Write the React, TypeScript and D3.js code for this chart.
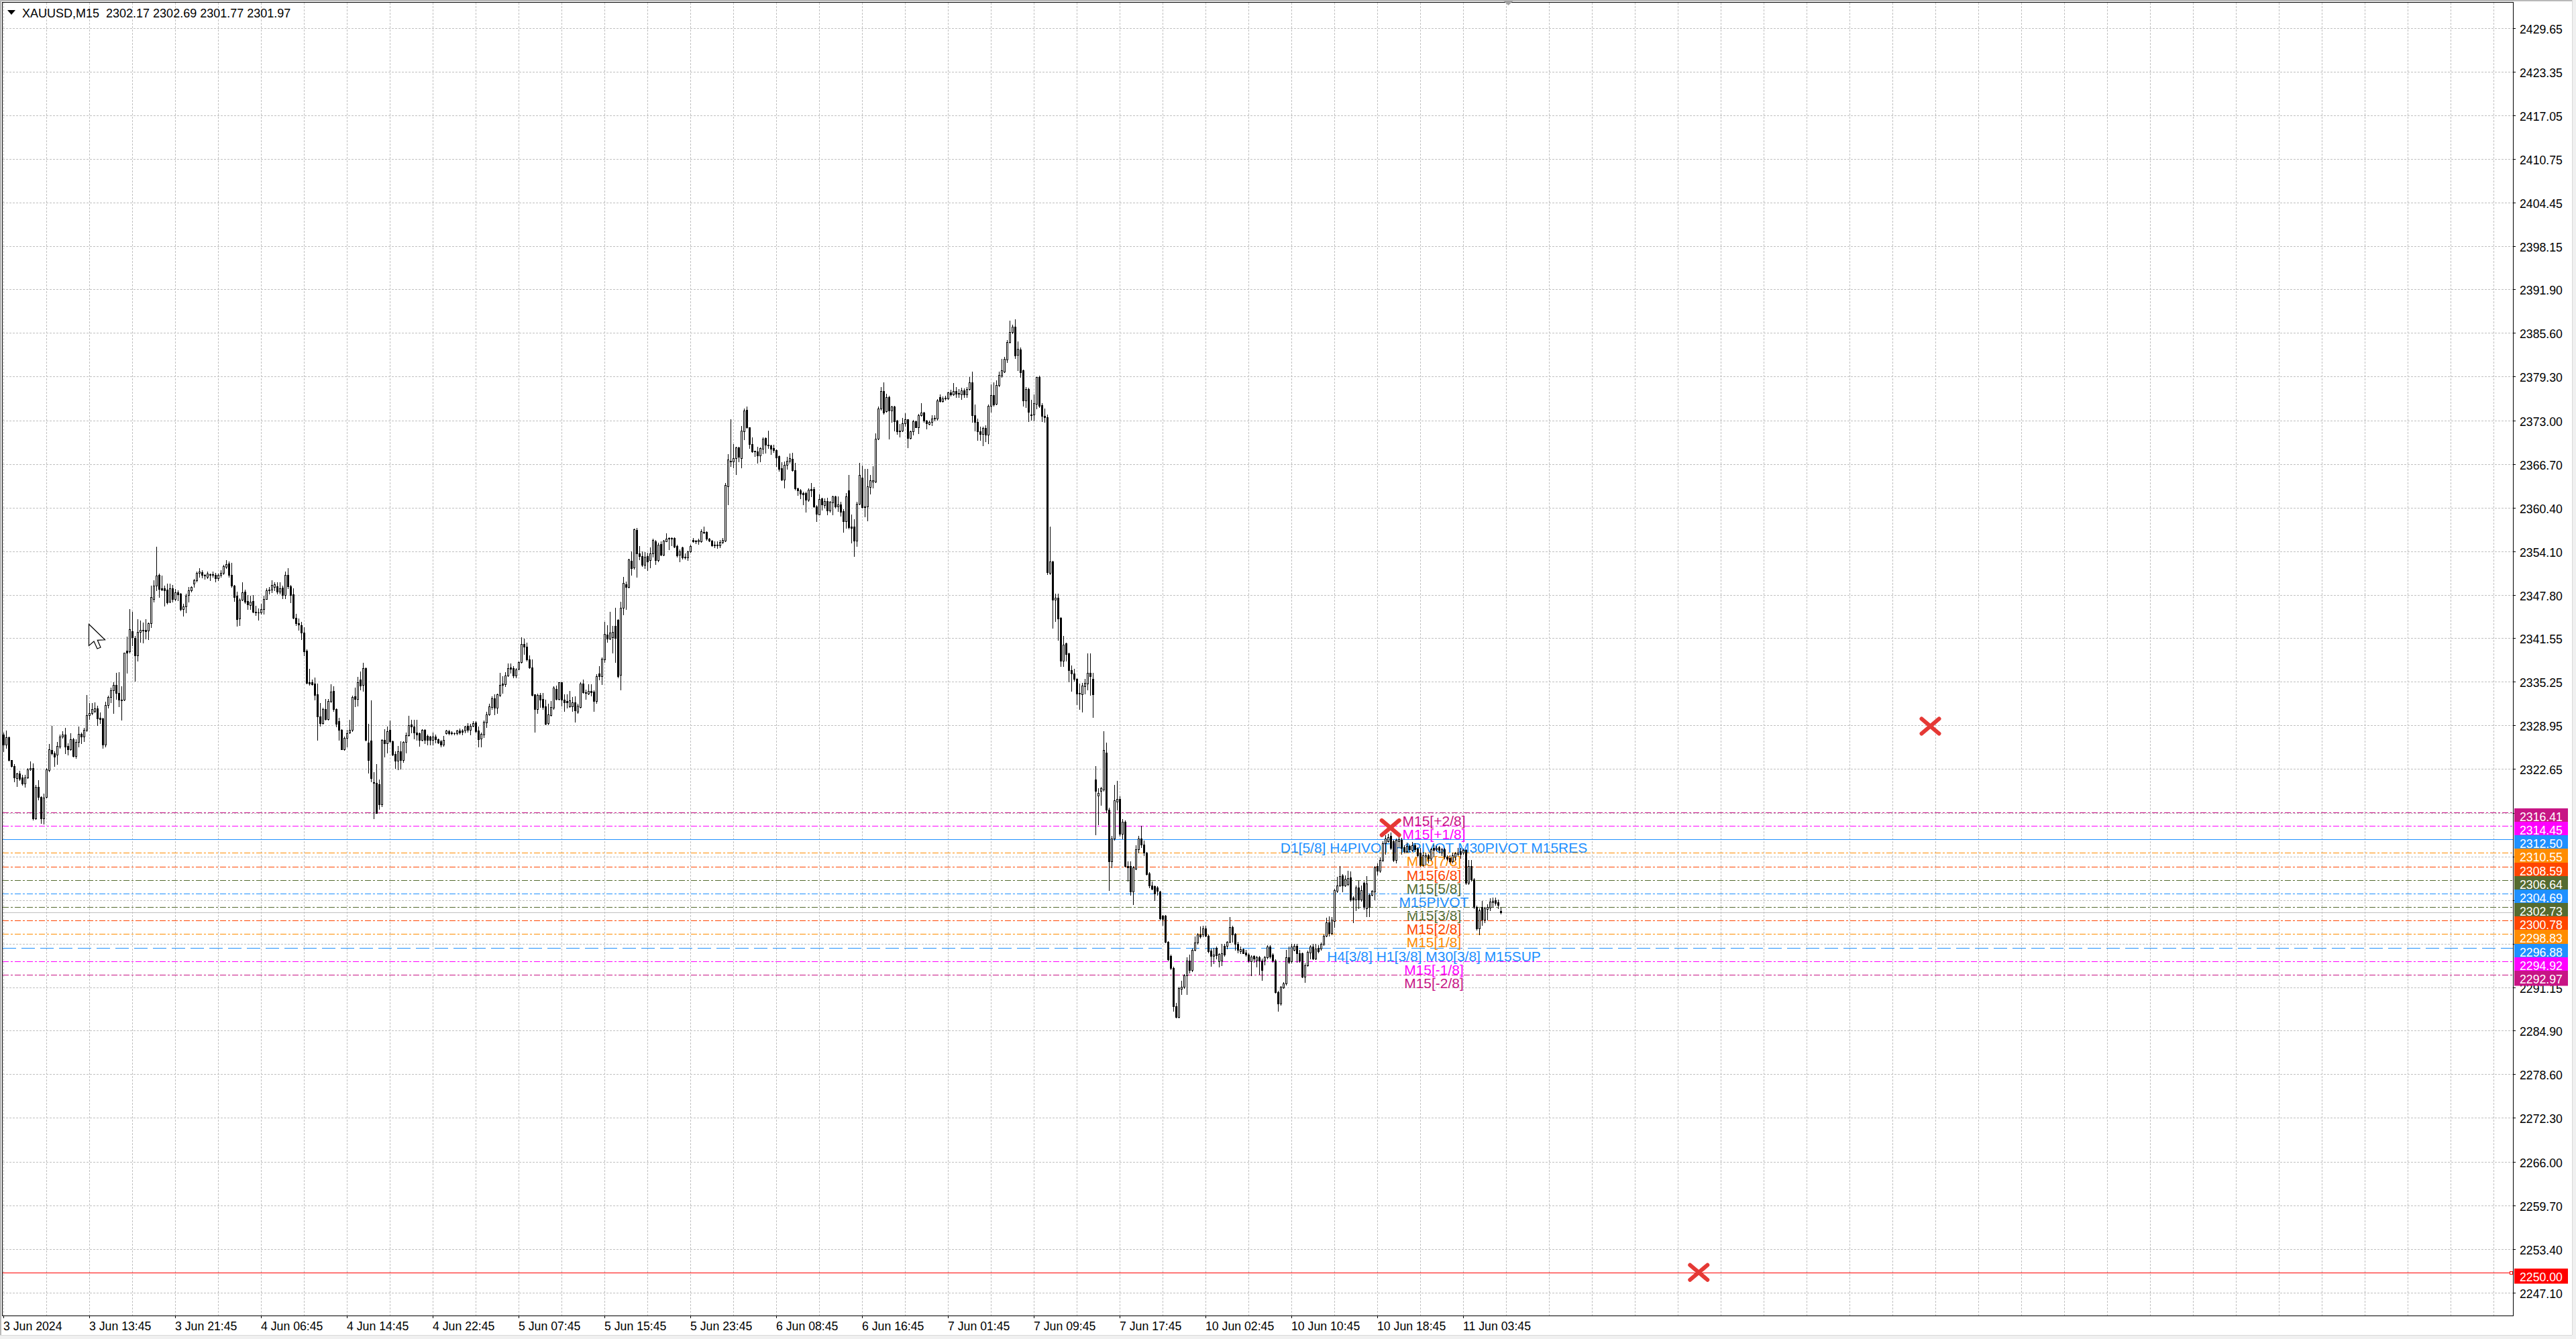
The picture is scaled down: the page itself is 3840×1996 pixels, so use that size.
import { useEffect, useRef } from "react";
import * as d3 from "d3";

// XAUUSD M15 bars, oldest first
const opens = [
  2327.64, 2326.18, 2327.22, 2323.92, 2323.12, 2321.34, 2322.05, 2321.41, 2320.53, 2321.41,
  2322.63, 2322.79, 2315.53, 2320.05, 2318.60, 2315.53, 2318.60, 2322.47, 2325.38, 2324.96,
  2324.73, 2325.86, 2327.31, 2327.64, 2326.02, 2325.47, 2326.99, 2324.50, 2326.57, 2327.73,
  2327.31, 2328.28, 2330.44, 2330.77, 2331.03, 2331.41, 2330.06, 2329.99, 2326.18, 2331.93,
  2333.03, 2334.06, 2334.83, 2333.67, 2332.64, 2332.64, 2339.74, 2339.68, 2342.55, 2341.61,
  2339.09, 2342.48, 2342.77, 2342.71, 2342.65, 2343.68, 2347.17, 2349.17, 2350.72, 2348.78,
  2348.78, 2348.52, 2346.78, 2348.78, 2347.17, 2348.20, 2347.97, 2345.71, 2346.13, 2347.75,
  2348.46, 2349.42, 2349.91, 2350.97, 2351.04, 2350.65, 2350.39, 2350.72, 2350.78, 2350.65,
  2350.23, 2350.65, 2350.97, 2351.85, 2352.33, 2350.65, 2349.10, 2347.65, 2344.42, 2347.10,
  2348.30, 2346.91, 2346.36, 2346.91, 2345.39, 2345.29, 2345.29, 2345.71, 2347.23, 2348.46,
  2348.52, 2348.94, 2349.04, 2348.30, 2348.84, 2347.75, 2350.65, 2349.04, 2347.87, 2344.52,
  2343.68, 2343.45, 2342.39, 2339.74, 2335.16, 2335.16, 2334.96, 2333.45, 2330.22, 2329.25,
  2331.35, 2329.90, 2332.48, 2333.93, 2331.35, 2329.57, 2328.28, 2325.47, 2327.15, 2327.96,
  2328.28, 2333.12, 2332.80, 2335.54, 2334.83, 2337.22, 2326.51, 2326.76, 2320.76, 2320.69,
  2320.44, 2317.53, 2326.89, 2326.34, 2328.28, 2326.67, 2324.83, 2323.86, 2325.21, 2323.92,
  2326.57, 2327.54, 2329.09, 2328.83, 2327.96, 2327.80, 2326.83, 2328.28, 2327.41, 2327.31,
  2326.83, 2327.31, 2326.99, 2326.67, 2326.18, 2327.86, 2328.12, 2327.96, 2327.86, 2327.80,
  2328.18, 2328.18, 2328.18, 2328.93, 2328.28, 2328.93, 2329.41, 2328.18, 2327.09, 2327.64,
  2329.41, 2330.54, 2331.61, 2332.90, 2331.51, 2333.35, 2334.96, 2334.90, 2336.19, 2337.32,
  2337.22, 2336.19, 2337.09, 2338.13, 2340.71, 2340.32, 2338.45, 2337.32, 2333.45, 2331.28,
  2333.35, 2332.80, 2331.74, 2329.25, 2330.44, 2331.51, 2334.25, 2332.80, 2335.16, 2332.64,
  2332.48, 2331.74, 2331.74, 2332.32, 2330.96, 2331.61, 2334.96, 2333.77, 2333.54, 2333.93,
  2333.87, 2332.48, 2336.40, 2336.03, 2338.45, 2342.06, 2341.52, 2341.68, 2343.36, 2344.20,
  2336.25, 2345.94, 2349.36, 2348.94, 2352.72, 2351.75, 2357.17, 2353.78, 2353.36, 2352.17,
  2353.36, 2352.81, 2353.78, 2355.56, 2352.81, 2355.17, 2353.62, 2355.56, 2356.01, 2356.01,
  2356.01, 2354.85, 2353.56, 2354.65, 2353.30, 2353.23, 2354.10, 2355.72, 2355.62, 2355.49,
  2355.56, 2356.91, 2356.85, 2355.94, 2355.62, 2355.07, 2355.07, 2354.91, 2355.39, 2355.62,
  2363.46, 2367.18, 2367.02, 2367.50, 2369.11, 2367.50, 2371.37, 2374.54, 2371.95, 2369.60,
  2368.60, 2368.53, 2367.89, 2368.86, 2370.40, 2369.44, 2369.37, 2368.95, 2368.73, 2367.82,
  2366.05, 2364.43, 2366.53, 2367.11, 2367.43, 2365.82, 2363.14, 2362.92, 2362.50, 2362.50,
  2361.53, 2363.05, 2363.05, 2360.56, 2359.43, 2361.69, 2360.79, 2361.30, 2360.01, 2361.11,
  2362.01, 2360.56, 2360.85, 2359.91, 2358.40, 2362.90, 2357.65, 2357.65, 2355.62, 2360.98,
  2364.76, 2360.56, 2360.56, 2363.37, 2364.11, 2364.11, 2370.34, 2374.67, 2377.25, 2374.34,
  2376.38, 2374.44, 2374.99, 2372.92, 2371.53, 2371.53, 2372.60, 2373.15, 2370.47, 2371.44,
  2372.83, 2372.02, 2373.70, 2374.12, 2372.99, 2372.50, 2372.73, 2373.24, 2373.24, 2376.38,
  2375.72, 2376.24, 2376.12, 2377.03, 2376.75, 2377.22, 2376.91, 2376.75, 2377.30, 2376.75,
  2377.54, 2378.49, 2373.75, 2372.80, 2371.37, 2370.98, 2371.89, 2370.90, 2375.05, 2376.63,
  2375.33, 2378.09, 2379.40, 2380.07, 2381.77, 2384.26, 2385.72, 2386.51, 2382.44, 2383.23,
  2380.19, 2375.84, 2377.54, 2373.86, 2373.86, 2375.33, 2379.20, 2375.17, 2373.67, 2373.47,
  2350.94, 2352.64, 2347.10, 2347.38, 2344.49, 2338.29, 2340.78, 2339.36, 2336.91, 2336.43,
  2335.64, 2333.66, 2333.42, 2334.61, 2335.01, 2336.59, 2335.72, 2321.10, 2318.85, 2319.54,
  2319.71, 2325.07, 2316.77, 2309.34, 2312.62, 2318.00, 2318.33, 2313.31, 2315.04, 2308.65,
  2308.65, 2305.02, 2308.30, 2311.07, 2312.62, 2311.76, 2310.55, 2307.61, 2305.88, 2305.71,
  2305.54, 2305.02, 2301.49, 2301.49, 2297.76, 2295.68, 2293.95, 2288.42, 2286.86, 2290.91,
  2291.25, 2292.91, 2294.99, 2293.61, 2296.55, 2297.58, 2298.79, 2298.79, 2299.66, 2298.62,
  2296.44, 2295.68, 2296.89, 2294.92, 2294.99, 2297.13, 2297.13, 2297.76, 2299.83, 2298.86,
  2297.41, 2296.37, 2296.65, 2296.20, 2295.85, 2294.92, 2295.68, 2294.99, 2295.51, 2294.99,
  2294.99, 2295.51, 2297.06, 2295.85, 2294.99, 2290.49, 2288.76, 2291.12, 2291.70, 2295.51,
  2294.92, 2296.55, 2297.13, 2296.03, 2296.03, 2292.64, 2294.30, 2296.20, 2297.06, 2295.33,
  2296.89, 2296.72, 2297.41, 2298.62, 2300.52, 2298.97, 2300.70, 2305.09, 2305.88, 2307.26,
  2305.88, 2306.05, 2307.02, 2304.15, 2303.81, 2305.54, 2303.81, 2306.23, 2302.60, 2304.50,
  2304.50, 2305.02, 2308.65, 2307.96, 2309.51, 2311.93, 2312.21, 2312.97, 2312.28, 2309.51,
  2312.28, 2312.45, 2311.41, 2310.83, 2311.59, 2310.97, 2311.66, 2311.17, 2310.55, 2308.82,
  2310.03, 2310.20, 2309.69, 2311.24, 2311.07, 2311.41, 2310.55, 2311.07, 2310.03, 2309.86,
  2309.34, 2310.03, 2310.38, 2310.83, 2310.55, 2310.96, 2306.23, 2308.65, 2306.74, 2302.77,
  2299.66, 2302.77, 2300.87, 2302.42, 2302.66, 2303.46, 2303.70, 2303.46, 2302.17,
];

const highs = [
  2327.96, 2328.18, 2327.31, 2323.99, 2323.34, 2322.15, 2322.37, 2321.83, 2321.83, 2322.79,
  2323.76, 2323.44, 2320.37, 2321.02, 2318.76, 2319.08, 2322.79, 2326.25, 2328.93, 2325.21,
  2326.57, 2327.64, 2328.12, 2328.60, 2326.34, 2327.80, 2327.15, 2326.99, 2328.76, 2327.96,
  2328.60, 2333.35, 2332.15, 2332.15, 2332.32, 2331.83, 2330.86, 2330.06, 2332.38, 2333.28,
  2334.41, 2335.22, 2336.58, 2336.67, 2334.64, 2339.48, 2341.74, 2345.78, 2345.39, 2341.84,
  2344.26, 2344.10, 2343.78, 2344.26, 2343.78, 2349.10, 2349.91, 2354.75, 2350.88, 2350.55,
  2349.10, 2349.42, 2349.42, 2349.26, 2348.62, 2348.46, 2348.07, 2346.52, 2347.97, 2348.94,
  2349.00, 2350.13, 2351.20, 2351.68, 2351.36, 2350.78, 2351.20, 2350.88, 2351.20, 2350.97,
  2350.88, 2351.36, 2352.17, 2352.81, 2352.59, 2352.39, 2349.26, 2348.30, 2347.33, 2349.59,
  2348.52, 2347.75, 2347.65, 2347.81, 2346.26, 2345.87, 2346.52, 2347.65, 2348.78, 2348.94,
  2349.91, 2349.59, 2349.59, 2349.59, 2349.10, 2351.20, 2351.68, 2349.26, 2348.78, 2345.07,
  2344.42, 2343.94, 2343.13, 2339.90, 2337.16, 2335.61, 2335.87, 2334.96, 2332.15, 2331.51,
  2332.80, 2332.80, 2334.90, 2334.58, 2331.41, 2330.06, 2328.44, 2327.31, 2328.28, 2329.80,
  2333.28, 2334.41, 2335.93, 2336.77, 2337.97, 2337.32, 2329.15, 2332.57, 2322.24, 2323.34,
  2321.18, 2326.99, 2328.38, 2328.76, 2329.67, 2326.76, 2325.21, 2326.02, 2326.67, 2326.67,
  2327.96, 2330.38, 2329.73, 2329.73, 2329.73, 2327.96, 2328.44, 2328.44, 2327.64, 2327.47,
  2327.96, 2327.64, 2327.09, 2326.89, 2327.47, 2328.28, 2328.28, 2328.12, 2327.96, 2328.28,
  2328.51, 2328.44, 2328.93, 2329.25, 2329.15, 2329.57, 2329.57, 2328.83, 2327.96, 2329.67,
  2330.96, 2332.06, 2333.12, 2333.45, 2333.54, 2336.58, 2336.03, 2336.67, 2337.87, 2337.87,
  2337.48, 2337.22, 2338.19, 2341.68, 2341.52, 2340.87, 2339.10, 2338.45, 2333.45, 2333.54,
  2333.67, 2333.61, 2332.64, 2332.06, 2332.48, 2334.58, 2334.74, 2335.22, 2335.22, 2333.45,
  2333.45, 2333.93, 2333.03, 2333.12, 2332.06, 2335.16, 2335.54, 2334.09, 2334.90, 2334.90,
  2333.99, 2336.35, 2337.48, 2338.77, 2343.94, 2343.45, 2345.39, 2343.29, 2345.94, 2344.26,
  2346.84, 2350.39, 2349.68, 2353.04, 2354.11, 2357.33, 2357.49, 2354.85, 2354.10, 2353.94,
  2353.88, 2354.65, 2355.88, 2355.72, 2355.30, 2355.56, 2355.72, 2356.69, 2356.14, 2356.14,
  2356.14, 2355.07, 2354.33, 2354.75, 2353.78, 2354.20, 2355.07, 2356.04, 2355.72, 2355.88,
  2357.24, 2357.65, 2357.01, 2356.04, 2355.72, 2355.56, 2355.56, 2355.72, 2356.04, 2363.95,
  2368.08, 2373.15, 2369.60, 2369.18, 2369.18, 2372.18, 2374.67, 2374.99, 2372.02, 2370.57,
  2368.63, 2369.18, 2369.11, 2370.57, 2370.57, 2371.53, 2369.50, 2369.44, 2368.79, 2367.89,
  2366.92, 2367.02, 2367.76, 2368.21, 2368.31, 2366.85, 2363.24, 2363.05, 2362.66, 2362.66,
  2363.14, 2363.95, 2363.37, 2360.72, 2362.33, 2361.85, 2361.75, 2361.85, 2361.37, 2362.08,
  2362.08, 2362.01, 2361.20, 2360.14, 2362.50, 2365.08, 2359.43, 2358.72, 2361.20, 2366.85,
  2366.47, 2365.95, 2365.95, 2365.08, 2366.37, 2371.11, 2374.99, 2377.76, 2378.47, 2376.86,
  2376.54, 2375.09, 2375.09, 2373.05, 2372.50, 2373.37, 2374.02, 2373.15, 2371.53, 2373.05,
  2372.92, 2373.89, 2375.51, 2374.21, 2373.05, 2372.92, 2373.70, 2373.70, 2376.05, 2376.70,
  2376.43, 2376.51, 2377.15, 2377.42, 2378.33, 2377.82, 2377.54, 2377.70, 2377.62, 2377.82,
  2379.28, 2379.99, 2375.25, 2373.27, 2372.08, 2372.08, 2372.28, 2375.25, 2378.21, 2378.49,
  2378.73, 2379.99, 2381.89, 2382.17, 2384.54, 2387.42, 2386.79, 2387.58, 2384.42, 2383.47,
  2380.31, 2377.82, 2377.70, 2375.96, 2376.75, 2379.28, 2379.40, 2375.45, 2374.66, 2373.86,
  2357.66, 2352.72, 2347.97, 2347.97, 2344.61, 2341.85, 2340.86, 2339.48, 2337.62, 2337.10,
  2335.80, 2335.01, 2335.13, 2335.72, 2339.36, 2339.36, 2336.59, 2323.07, 2319.89, 2320.06,
  2328.12, 2326.46, 2317.12, 2312.97, 2320.40, 2321.00, 2318.68, 2315.39, 2315.22, 2309.34,
  2309.34, 2308.65, 2311.66, 2312.97, 2314.42, 2312.35, 2310.72, 2307.78, 2306.40, 2305.88,
  2305.78, 2305.09, 2301.56, 2301.56, 2297.82, 2295.85, 2294.12, 2288.94, 2291.25, 2292.05,
  2293.09, 2295.51, 2295.85, 2296.72, 2298.45, 2298.97, 2299.90, 2300.00, 2300.00, 2298.79,
  2296.72, 2296.89, 2297.06, 2296.03, 2297.41, 2297.41, 2297.82, 2301.28, 2300.00, 2298.97,
  2297.76, 2297.06, 2296.79, 2296.55, 2296.03, 2295.75, 2295.75, 2295.68, 2295.68, 2295.33,
  2295.68, 2297.24, 2297.24, 2296.03, 2295.16, 2290.67, 2291.36, 2291.88, 2296.55, 2297.06,
  2297.41, 2297.41, 2297.41, 2296.55, 2296.20, 2294.57, 2296.44, 2297.24, 2297.41, 2297.41,
  2297.24, 2297.58, 2298.79, 2301.21, 2301.39, 2301.28, 2305.36, 2307.09, 2308.65, 2307.51,
  2307.26, 2307.95, 2307.85, 2304.33, 2305.88, 2306.57, 2305.88, 2306.40, 2307.16, 2304.67,
  2305.19, 2308.65, 2309.00, 2309.93, 2312.28, 2313.14, 2313.31, 2313.49, 2312.45, 2312.62,
  2312.80, 2312.69, 2311.66, 2312.00, 2311.76, 2312.11, 2311.93, 2311.41, 2311.24, 2310.72,
  2310.55, 2310.38, 2311.24, 2311.76, 2311.59, 2311.59, 2311.24, 2311.24, 2310.20, 2310.20,
  2310.55, 2310.72, 2311.24, 2311.24, 2311.17, 2311.07, 2309.51, 2309.51, 2306.92, 2302.94,
  2302.60, 2303.63, 2302.77, 2303.11, 2303.98, 2304.15, 2304.15, 2303.81, 2302.69,
];

const lows = [
  2325.21, 2325.70, 2323.86, 2322.95, 2320.86, 2320.21, 2321.02, 2320.37, 2320.05, 2321.34,
  2322.47, 2315.37, 2315.47, 2318.27, 2314.88, 2314.72, 2318.50, 2322.31, 2324.73, 2323.12,
  2323.34, 2325.70, 2327.15, 2324.89, 2324.73, 2325.38, 2324.41, 2324.25, 2325.86, 2326.34,
  2326.67, 2328.12, 2329.90, 2330.54, 2330.86, 2329.02, 2329.25, 2325.70, 2325.86, 2331.51,
  2332.32, 2330.77, 2332.80, 2331.67, 2329.80, 2332.57, 2336.58, 2339.42, 2340.55, 2335.38,
  2338.29, 2341.03, 2340.87, 2341.52, 2341.35, 2343.13, 2346.84, 2348.46, 2347.49, 2348.46,
  2346.20, 2346.52, 2346.68, 2346.84, 2347.00, 2347.00, 2345.55, 2344.74, 2345.29, 2346.84,
  2348.30, 2348.94, 2349.75, 2350.39, 2350.33, 2350.13, 2350.23, 2349.91, 2350.39, 2349.75,
  2349.91, 2350.39, 2350.78, 2351.68, 2350.39, 2348.94, 2346.91, 2343.29, 2343.45, 2347.00,
  2346.58, 2345.71, 2345.71, 2345.23, 2344.91, 2344.20, 2345.07, 2345.07, 2347.17, 2347.97,
  2348.13, 2348.46, 2347.97, 2347.97, 2347.33, 2347.33, 2348.78, 2346.68, 2344.42, 2343.45,
  2342.71, 2341.35, 2339.10, 2334.96, 2334.83, 2334.83, 2332.64, 2326.89, 2328.93, 2329.15,
  2329.80, 2329.73, 2332.32, 2331.03, 2328.83, 2326.83, 2325.47, 2325.38, 2325.92, 2327.80,
  2328.12, 2331.67, 2331.83, 2334.09, 2333.93, 2326.76, 2322.15, 2320.86, 2315.53, 2316.34,
  2316.89, 2317.31, 2324.41, 2325.05, 2326.50, 2324.63, 2322.79, 2322.57, 2322.70, 2323.67,
  2325.05, 2327.47, 2327.96, 2327.09, 2326.83, 2326.02, 2326.76, 2326.34, 2326.18, 2326.18,
  2326.18, 2326.51, 2326.34, 2325.92, 2326.02, 2327.73, 2327.64, 2327.64, 2327.64, 2327.64,
  2327.73, 2327.64, 2327.96, 2328.05, 2327.64, 2328.76, 2327.96, 2325.86, 2325.92, 2327.22,
  2328.70, 2330.44, 2331.35, 2330.54, 2330.70, 2333.12, 2333.61, 2334.64, 2336.03, 2336.58,
  2335.87, 2335.87, 2337.00, 2337.97, 2339.26, 2338.29, 2337.22, 2333.22, 2328.05, 2330.70,
  2331.61, 2331.35, 2329.09, 2329.09, 2330.38, 2331.35, 2332.64, 2332.64, 2331.83, 2331.03,
  2331.51, 2331.61, 2331.03, 2329.47, 2330.70, 2331.51, 2333.61, 2332.80, 2333.45, 2333.28,
  2331.03, 2332.15, 2335.61, 2334.90, 2338.13, 2341.03, 2341.35, 2339.48, 2338.13, 2335.87,
  2334.09, 2344.97, 2345.71, 2348.84, 2350.72, 2351.52, 2350.39, 2352.91, 2351.94, 2351.62,
  2351.36, 2351.75, 2353.30, 2352.26, 2352.65, 2353.46, 2353.46, 2355.49, 2354.33, 2354.91,
  2354.65, 2353.30, 2352.65, 2353.04, 2353.04, 2352.81, 2353.94, 2355.39, 2355.23, 2355.17,
  2355.39, 2356.69, 2355.72, 2355.56, 2354.85, 2354.65, 2354.59, 2354.65, 2355.23, 2355.49,
  2360.88, 2366.37, 2366.21, 2365.18, 2367.02, 2366.14, 2370.24, 2371.86, 2368.95, 2368.40,
  2367.82, 2366.85, 2367.02, 2368.21, 2368.31, 2368.95, 2368.08, 2368.40, 2366.37, 2365.72,
  2364.34, 2363.24, 2365.95, 2366.85, 2365.72, 2362.98, 2362.17, 2361.75, 2360.88, 2359.75,
  2361.37, 2362.01, 2360.46, 2358.46, 2359.37, 2360.07, 2360.40, 2359.43, 2359.82, 2359.37,
  2360.40, 2359.91, 2359.17, 2356.85, 2357.49, 2357.33, 2355.30, 2353.36, 2354.85, 2360.88,
  2360.40, 2359.11, 2358.53, 2362.40, 2363.24, 2364.01, 2370.24, 2374.54, 2373.96, 2374.21,
  2370.34, 2372.73, 2371.53, 2371.05, 2370.66, 2371.37, 2372.18, 2369.05, 2370.34, 2370.89,
  2371.95, 2371.11, 2373.63, 2372.73, 2371.76, 2372.34, 2372.28, 2372.92, 2373.05, 2375.63,
  2375.64, 2375.96, 2376.04, 2376.51, 2376.63, 2376.36, 2376.36, 2376.04, 2376.36, 2376.36,
  2377.42, 2372.80, 2371.49, 2370.19, 2370.19, 2369.40, 2369.91, 2369.71, 2374.26, 2375.05,
  2375.25, 2377.94, 2379.20, 2379.91, 2381.38, 2384.14, 2385.53, 2381.97, 2380.19, 2379.28,
  2375.05, 2374.85, 2372.88, 2373.07, 2372.96, 2374.66, 2374.85, 2372.88, 2372.80, 2350.74,
  2350.82, 2343.03, 2344.02, 2341.25, 2337.50, 2337.50, 2338.29, 2335.25, 2333.94, 2335.40,
  2331.96, 2331.29, 2330.89, 2333.54, 2334.14, 2333.35, 2330.18, 2313.25, 2314.70, 2317.47,
  2319.54, 2316.43, 2305.19, 2308.47, 2312.45, 2316.77, 2312.97, 2312.62, 2308.54, 2306.57,
  2304.50, 2303.11, 2308.13, 2310.55, 2311.41, 2310.20, 2307.44, 2305.54, 2305.29, 2303.70,
  2304.50, 2300.87, 2300.18, 2297.58, 2294.99, 2293.78, 2287.73, 2286.76, 2286.76, 2290.15,
  2291.01, 2290.15, 2293.26, 2293.43, 2296.44, 2297.41, 2298.27, 2298.45, 2298.45, 2296.20,
  2294.23, 2294.64, 2295.33, 2294.12, 2294.30, 2295.68, 2296.72, 2297.58, 2297.76, 2296.55,
  2296.20, 2296.03, 2296.03, 2295.68, 2294.82, 2292.91, 2294.82, 2294.12, 2293.09, 2292.22,
  2294.47, 2295.33, 2295.40, 2294.82, 2290.32, 2287.73, 2288.59, 2291.01, 2291.53, 2294.64,
  2294.71, 2296.44, 2294.82, 2294.82, 2292.57, 2291.88, 2294.23, 2295.33, 2295.16, 2295.16,
  2296.20, 2296.55, 2297.24, 2298.51, 2298.62, 2298.79, 2299.83, 2304.84, 2305.71, 2305.02,
  2305.71, 2305.88, 2303.63, 2300.52, 2302.25, 2302.60, 2303.63, 2302.42, 2301.39, 2301.39,
  2304.39, 2303.81, 2307.44, 2307.78, 2309.34, 2310.38, 2312.11, 2311.07, 2309.34, 2309.17,
  2311.41, 2310.38, 2310.55, 2310.72, 2310.83, 2310.83, 2310.83, 2310.03, 2308.65, 2308.65,
  2308.82, 2309.17, 2309.51, 2310.03, 2310.90, 2310.55, 2310.20, 2309.69, 2309.51, 2309.17,
  2309.17, 2309.51, 2310.20, 2309.86, 2310.38, 2306.05, 2306.05, 2306.57, 2302.60, 2299.48,
  2298.79, 2300.18, 2300.52, 2300.87, 2302.25, 2302.77, 2303.01, 2302.60, 2301.77,
];

const closes = [
  2326.18, 2327.22, 2323.92, 2323.12, 2321.41, 2322.05, 2321.24, 2320.53, 2321.41, 2322.63,
  2322.79, 2315.53, 2320.11, 2318.60, 2315.53, 2318.50, 2322.63, 2325.47, 2324.89, 2324.41,
  2326.02, 2327.31, 2327.64, 2325.86, 2325.47, 2326.99, 2324.50, 2326.57, 2327.73, 2327.31,
  2328.28, 2330.44, 2330.77, 2331.35, 2331.41, 2329.99, 2329.90, 2326.18, 2331.93, 2333.03,
  2334.06, 2334.83, 2333.67, 2332.64, 2332.57, 2339.42, 2339.48, 2342.81, 2341.68, 2339.03,
  2342.48, 2342.71, 2342.65, 2342.58, 2343.68, 2347.49, 2349.17, 2350.55, 2348.62, 2348.52,
  2348.46, 2346.68, 2348.78, 2347.17, 2348.20, 2347.87, 2345.71, 2346.13, 2347.65, 2348.46,
  2348.94, 2349.91, 2350.97, 2351.20, 2350.65, 2350.55, 2350.88, 2350.78, 2350.65, 2350.23,
  2350.72, 2350.97, 2351.94, 2352.27, 2350.65, 2349.10, 2347.49, 2344.32, 2347.10, 2348.20,
  2346.84, 2346.45, 2346.84, 2345.39, 2345.23, 2345.23, 2345.71, 2347.23, 2348.46, 2348.52,
  2349.26, 2349.36, 2348.30, 2348.78, 2347.75, 2350.65, 2349.04, 2347.81, 2344.52, 2343.68,
  2343.55, 2342.32, 2339.68, 2335.06, 2334.96, 2334.90, 2333.35, 2330.22, 2329.25, 2331.35,
  2329.90, 2332.48, 2333.87, 2331.35, 2329.15, 2328.28, 2325.54, 2327.15, 2327.86, 2328.28,
  2333.03, 2332.80, 2335.16, 2334.74, 2337.22, 2326.83, 2323.99, 2321.34, 2320.63, 2316.34,
  2317.53, 2326.89, 2326.34, 2328.12, 2326.67, 2324.73, 2323.86, 2325.21, 2323.99, 2326.57,
  2327.54, 2329.02, 2328.76, 2327.96, 2327.64, 2326.83, 2328.28, 2326.89, 2326.89, 2326.83,
  2327.31, 2326.99, 2326.51, 2326.18, 2326.83, 2328.18, 2327.86, 2327.80, 2327.80, 2328.18,
  2327.96, 2328.05, 2328.76, 2328.28, 2328.93, 2329.25, 2328.12, 2326.99, 2327.73, 2329.47,
  2330.54, 2331.67, 2332.90, 2331.51, 2333.45, 2334.83, 2334.83, 2336.19, 2337.22, 2337.16,
  2336.19, 2337.00, 2338.13, 2340.71, 2340.32, 2338.45, 2337.32, 2333.35, 2331.28, 2333.35,
  2332.70, 2331.61, 2329.15, 2330.54, 2331.61, 2334.41, 2332.80, 2335.16, 2332.64, 2332.32,
  2332.32, 2332.57, 2332.25, 2331.09, 2331.83, 2334.96, 2333.77, 2333.61, 2333.93, 2333.77,
  2332.48, 2336.03, 2336.03, 2338.61, 2342.16, 2341.52, 2342.39, 2342.48, 2341.61, 2336.03,
  2345.94, 2349.49, 2348.94, 2352.91, 2351.68, 2357.24, 2353.78, 2353.36, 2352.17, 2353.30,
  2352.65, 2353.78, 2355.72, 2352.81, 2355.07, 2353.62, 2355.62, 2355.94, 2355.88, 2355.88,
  2354.75, 2353.46, 2354.10, 2353.23, 2353.23, 2354.10, 2354.85, 2355.49, 2355.49, 2355.72,
  2357.01, 2356.78, 2355.94, 2355.62, 2354.98, 2354.91, 2354.91, 2355.39, 2355.72, 2363.69,
  2367.34, 2367.02, 2367.50, 2369.11, 2367.76, 2371.53, 2374.44, 2371.95, 2369.60, 2368.53,
  2368.47, 2367.89, 2368.95, 2370.34, 2369.44, 2369.37, 2368.86, 2368.73, 2367.66, 2365.95,
  2364.43, 2366.53, 2367.18, 2367.56, 2365.82, 2363.14, 2362.92, 2362.40, 2362.33, 2361.53,
  2362.98, 2362.92, 2360.56, 2359.49, 2361.62, 2360.88, 2361.30, 2360.01, 2361.20, 2362.01,
  2360.56, 2360.85, 2359.82, 2358.46, 2362.01, 2357.56, 2357.49, 2355.62, 2360.98, 2365.08,
  2360.46, 2360.46, 2363.47, 2364.34, 2364.34, 2370.34, 2374.67, 2377.25, 2374.12, 2376.38,
  2374.44, 2374.99, 2372.83, 2371.37, 2371.44, 2372.60, 2373.15, 2370.47, 2371.44, 2372.83,
  2372.02, 2373.70, 2374.12, 2372.92, 2372.60, 2372.73, 2373.24, 2373.37, 2375.89, 2375.73,
  2376.12, 2376.12, 2377.03, 2376.75, 2377.22, 2376.83, 2376.83, 2377.30, 2376.75, 2377.54,
  2378.49, 2373.75, 2372.80, 2371.37, 2370.98, 2371.89, 2370.90, 2375.05, 2376.63, 2375.25,
  2378.09, 2379.52, 2380.19, 2381.89, 2384.26, 2385.72, 2386.51, 2382.36, 2383.35, 2379.91,
  2375.84, 2377.54, 2374.26, 2373.75, 2375.45, 2379.20, 2375.05, 2373.59, 2373.47, 2351.06,
  2352.64, 2347.10, 2347.38, 2344.42, 2338.29, 2340.66, 2339.28, 2336.91, 2336.43, 2335.64,
  2333.54, 2333.54, 2334.73, 2335.13, 2336.59, 2336.04, 2333.42, 2319.54, 2319.26, 2319.89,
  2325.42, 2316.77, 2309.34, 2312.62, 2318.16, 2318.33, 2313.31, 2315.04, 2308.65, 2308.47,
  2305.02, 2308.47, 2311.07, 2312.62, 2311.76, 2310.55, 2307.51, 2305.88, 2305.36, 2304.67,
  2305.09, 2301.14, 2301.04, 2297.76, 2295.16, 2293.95, 2288.42, 2286.86, 2291.01, 2291.25,
  2292.91, 2294.99, 2293.61, 2296.55, 2297.58, 2298.79, 2298.45, 2299.66, 2298.62, 2296.37,
  2295.68, 2295.85, 2295.75, 2295.96, 2296.03, 2295.85, 2297.76, 2299.83, 2298.79, 2297.41,
  2296.55, 2296.65, 2296.10, 2295.85, 2294.99, 2295.61, 2295.33, 2295.51, 2294.99, 2293.61,
  2295.51, 2297.06, 2295.61, 2294.99, 2290.49, 2288.76, 2291.18, 2291.70, 2295.51, 2294.82,
  2297.06, 2297.13, 2296.03, 2294.99, 2292.64, 2294.37, 2296.30, 2297.06, 2295.33, 2296.79,
  2296.37, 2297.41, 2298.62, 2300.52, 2298.97, 2300.87, 2305.19, 2305.88, 2307.16, 2305.88,
  2306.81, 2306.92, 2303.81, 2303.81, 2305.54, 2303.81, 2305.19, 2302.77, 2306.12, 2302.77,
  2305.09, 2308.47, 2307.96, 2309.51, 2311.93, 2312.62, 2312.80, 2311.24, 2309.51, 2312.45,
  2312.55, 2311.24, 2310.83, 2311.59, 2311.07, 2311.66, 2311.07, 2310.20, 2308.82, 2310.20,
  2310.20, 2309.69, 2311.07, 2310.96, 2311.24, 2310.96, 2311.07, 2310.03, 2309.69, 2309.34,
  2310.20, 2310.48, 2310.62, 2310.38, 2310.96, 2306.23, 2308.65, 2306.74, 2302.77, 2299.66,
  2302.25, 2300.87, 2302.60, 2302.77, 2303.56, 2303.63, 2303.36, 2303.01, 2301.97,
];

// one time label every 32 bars (8 trading hours)
const timeLabels = [
  "3 Jun 2024", "3 Jun 13:45", "3 Jun 21:45", "4 Jun 06:45", "4 Jun 14:45", "4 Jun 22:45",
  "5 Jun 07:45", "5 Jun 15:45", "5 Jun 23:45", "6 Jun 08:45", "6 Jun 16:45", "7 Jun 01:45",
  "7 Jun 09:45", "7 Jun 17:45", "10 Jun 02:45", "10 Jun 10:45", "10 Jun 18:45", "11 Jun 03:45",
];
const BARS_PER_LABEL = 32;

const priceTicks = [
  2429.65, 2423.35, 2417.05, 2410.75, 2404.45, 2398.15, 2391.9, 2385.6, 2379.3, 2373.0,
  2366.7, 2360.4, 2354.1, 2347.8, 2341.55, 2335.25, 2328.95, 2322.65, 2316.35, 2310.05,
  2303.75, 2297.45, 2291.15, 2284.9, 2278.6, 2272.3, 2266.0, 2259.7, 2253.4, 2247.1,
];

// Murrey-math style levels drawn by the indicator
const levelPrices = [
  2316.41, 2314.45, 2312.5, 2310.55, 2308.59, 2306.64, 2304.69, 2302.73, 2300.78, 2298.83,
  2296.88, 2294.92, 2292.97,
];
const levelNames = [
  "M15[+2/8]", "M15[+1/8]", "D1[5/8] H4PIVOT H1PIVOT M30PIVOT M15RES", "M15[7/8]", "M15[6/8]",
  "M15[5/8]", "M15PIVOT", "M15[3/8]", "M15[2/8]", "M15[1/8]", "H4[3/8] H1[3/8] M30[3/8] M15SUP",
  "M15[-1/8]", "M15[-2/8]",
];
const levelColors = [
  "#C71585", "#FF00FF", "#1E90FF", "#FF8C00", "#FF4500", "#556B2F", "#1E90FF", "#556B2F",
  "#FF4500", "#FF8C00", "#1E90FF", "#FF00FF", "#C71585",
];
const DASHDOT = "9,3,3,3";
const levelDash = [
  DASHDOT, DASHDOT, "none", DASHDOT, DASHDOT, DASHDOT, DASHDOT, DASHDOT, DASHDOT, DASHDOT,
  "20,8", DASHDOT, DASHDOT,
];
const LABEL_BAR = 533;

const alertPrice = 2250.0;
const bidPrice = 2301.97;

// red cross objects: bar index (time) and price
const crossBars = [516.8, 718, 631.7];
const crossPrices = [2314.19, 2328.85, 2250.0];

const W = 3840;
const H = 1996;
const PLOT_L = 3.5;
const PLOT_T = 3.5;
const PLOT_R = 3746.5;
const PLOT_B = 1961.5;
const FONT = "'Liberation Sans', Arial, sans-serif";

export default function App() {
  const svgRef = useRef<SVGSVGElement | null>(null);

  useEffect(() => {
    if (!svgRef.current) return;
    document.body.style.margin = "0";
    const svg = d3.select(svgRef.current);
    svg.selectAll("*").remove();

    const n = closes.length;
    const x = d3.scaleLinear().domain([0, 935]).range([5.5, 5.5 + 4 * 935]);
    const y = d3.scaleLinear().domain([2429.65, 2247.1]).range([41.5, 1926.7]);
    const px = (i: number) => Math.round(x(i) - 0.5);
    const py = (p: number) => Math.round(y(p));

    // background and window edges
    svg.append("rect").attr("width", W).attr("height", H).attr("fill", "#FFFFFF");
    svg.append("rect").attr("x", 0).attr("y", 0).attr("width", W).attr("height", 2).attr("fill", "#B8B8B8");
    svg.append("rect").attr("x", 0).attr("y", 0).attr("width", 2).attr("height", H).attr("fill", "#B8B8B8");
    svg.append("rect").attr("x", 3834).attr("y", 0).attr("width", 6).attr("height", H).attr("fill", "#F0F0F0");
    svg.append("rect").attr("x", 0).attr("y", 1990).attr("width", W).attr("height", 6).attr("fill", "#F0F0F0");
    svg.append("line").attr("x1", 3834.5).attr("x2", 3834.5).attr("y1", 0).attr("y2", 1990)
      .attr("stroke", "#D8D8D8");
    svg.append("line").attr("x1", 0).attr("x2", 3834).attr("y1", 1990.5).attr("y2", 1990.5)
      .attr("stroke", "#D8D8D8");

    // grid
    const grid = svg.append("g").attr("shape-rendering", "crispEdges")
      .attr("stroke", "#C0C0C0").attr("stroke-dasharray", "3,2");
    const vBars = d3.range(0, 935, 16).filter((b) => x(b) < PLOT_R - 2);
    grid.selectAll("line.v").data(vBars).join("line")
      .attr("x1", (b) => px(b) + 0.5).attr("x2", (b) => px(b) + 0.5)
      .attr("y1", PLOT_T).attr("y2", PLOT_B);
    grid.selectAll("line.h").data(priceTicks).join("line")
      .attr("x1", PLOT_L).attr("x2", PLOT_R)
      .attr("y1", (t) => py(t) + 0.5).attr("y2", (t) => py(t) + 0.5);

    // indicator levels
    const lv = svg.append("g");
    lv.selectAll("line").data(levelPrices).join("line")
      .attr("shape-rendering", "crispEdges")
      .attr("x1", PLOT_L).attr("x2", PLOT_R)
      .attr("y1", (p) => py(p) + 0.5).attr("y2", (p) => py(p) + 0.5)
      .attr("stroke", (_, i) => levelColors[i])
      .attr("stroke-dasharray", (_, i) => levelDash[i]);
    lv.selectAll("text").data(levelPrices).join("text")
      .attr("x", x(LABEL_BAR)).attr("y", (p) => py(p) + 19.5)
      .attr("text-anchor", "middle")
      .attr("font-family", FONT).attr("font-size", 21)
      .attr("fill", (_, i) => levelColors[i])
      .text((_, i) => levelNames[i]);

    // bid line and alert line
    svg.append("line").attr("shape-rendering", "crispEdges")
      .attr("x1", PLOT_L).attr("x2", PLOT_R)
      .attr("y1", py(bidPrice) + 0.5).attr("y2", py(bidPrice) + 0.5)
      .attr("stroke", "#C0C0C0");
    svg.append("line").attr("shape-rendering", "crispEdges")
      .attr("x1", PLOT_L).attr("x2", 3742)
      .attr("y1", py(alertPrice) + 0.5).attr("y2", py(alertPrice) + 0.5)
      .attr("stroke", "#FF0000");
    svg.append("rect").attr("shape-rendering", "crispEdges")
      .attr("x", 3741.5).attr("y", py(alertPrice) - 1.5).attr("width", 4).attr("height", 4)
      .attr("fill", "#FFFFFF").attr("stroke", "#FF0000");

    // candles
    const idx = d3.range(n);
    const cg = svg.append("g").attr("shape-rendering", "crispEdges");
    cg.selectAll("line").data(idx).join("line")
      .attr("x1", (i) => px(i) + 0.5).attr("x2", (i) => px(i) + 0.5)
      .attr("y1", (i) => py(Math.max(highs[i], opens[i], closes[i])))
      .attr("y2", (i) => py(Math.min(lows[i], opens[i], closes[i])) + 1)
      .attr("stroke", "#000000");
    cg.selectAll("rect").data(idx).join("rect")
      .each(function (i) {
        const top = py(Math.max(opens[i], closes[i]));
        const bot = py(Math.min(opens[i], closes[i]));
        const h = bot - top;
        const r = d3.select(this);
        if (closes[i] > opens[i] && h >= 2) {
          r.attr("x", px(i) - 0.5).attr("y", top + 0.5).attr("width", 2).attr("height", h)
            .attr("fill", "#FFFFFF").attr("stroke", "#000000");
        } else {
          r.attr("x", px(i) - 1).attr("y", top).attr("width", 3).attr("height", Math.max(1, h + 1))
            .attr("fill", "#000000");
        }
      });

    // red crosses
    svg.selectAll("path.cross").data(crossBars).join("path")
      .attr("class", "cross")
      .attr("transform", (b, i) => `translate(${x(b)},${y(crossPrices[i])})`)
      .attr("d", "M-13,-11L13,11M13,-11L-13,11")
      .attr("stroke", "#E53935").attr("stroke-width", 6).attr("stroke-linecap", "round")
      .attr("fill", "none");

    // frame
    svg.append("rect").attr("shape-rendering", "crispEdges")
      .attr("x", PLOT_L).attr("y", PLOT_T)
      .attr("width", PLOT_R - PLOT_L).attr("height", PLOT_B - PLOT_T)
      .attr("fill", "none").attr("stroke", "#000000");

    // price axis
    const ax = svg.append("g");
    ax.selectAll("line").data(priceTicks).join("line")
      .attr("shape-rendering", "crispEdges")
      .attr("x1", PLOT_R).attr("x2", PLOT_R + 3)
      .attr("y1", (t) => py(t) + 0.5).attr("y2", (t) => py(t) + 0.5)
      .attr("stroke", "#000000");
    const boxTop = py(levelPrices[0]) - 6;
    const boxBot = py(levelPrices[levelPrices.length - 1]) + 16.5;
    const shownTicks = priceTicks.filter((t) => !(py(t) - 6 >= boxTop && py(t) + 8 <= boxBot));
    ax.selectAll("text").data(shownTicks).join("text")
      .attr("x", 3756).attr("y", (t) => py(t) + 8)
      .attr("font-family", FONT).attr("font-size", 17.7).attr("fill", "#000000")
      .text((t) => t.toFixed(2));

    // colored price labels
    const boxPrices = [...levelPrices, alertPrice];
    const boxColors = [...levelColors, "#FF0000"];
    const bx = svg.append("g");
    bx.selectAll("rect").data(boxPrices).join("rect")
      .attr("x", 3748).attr("y", (p) => py(p) - 6)
      .attr("width", 80).attr("height", 22.5)
      .attr("fill", (_, i) => boxColors[i]);
    bx.selectAll("text").data(boxPrices).join("text")
      .attr("x", 3756).attr("y", (p) => py(p) + 12.5)
      .attr("font-family", FONT).attr("font-size", 17.7).attr("fill", "#FFFFFF")
      .text((p) => p.toFixed(2));

    // time axis
    const labelBars = timeLabels.map((_, k) => k * BARS_PER_LABEL);
    const tx = svg.append("g");
    tx.selectAll("line").data(labelBars).join("line")
      .attr("shape-rendering", "crispEdges")
      .attr("x1", (b) => px(b) + 0.5).attr("x2", (b) => px(b) + 0.5)
      .attr("y1", PLOT_B).attr("y2", PLOT_B + 3)
      .attr("stroke", "#000000");
    tx.selectAll("text").data(labelBars).join("text")
      .attr("x", (b) => px(b)).attr("y", 1983.3)
      .attr("font-family", FONT).attr("font-size", 17.7).attr("fill", "#000000")
      .text((_, k) => timeLabels[k]);

    // header
    svg.append("path").attr("d", "M11,15L23,15L17,22Z").attr("fill", "#000000");
    const last = n - 1;
    svg.append("text")
      .attr("x", 33).attr("y", 26)
      .attr("font-family", FONT).attr("font-size", 18).attr("fill", "#000000")
      .attr("xml:space", "preserve").style("white-space", "pre")
      .text(`XAUUSD,M15  ${opens[last].toFixed(2)} ${highs[last].toFixed(2)} ${lows[last].toFixed(2)} ${closes[last].toFixed(2)}`);

    // chart shift marker
    svg.append("path").attr("d", "M2241,1L2256,1L2248.5,8Z").attr("fill", "#A0A0A0");

    // mouse pointer left on the chart
    svg.append("path")
      .attr("transform", "translate(132.5,930.5)")
      .attr("d", "M0,0L0,32L7.5,25.5L12.5,36.5L17.5,34.5L12.8,23.8L24,23.3Z")
      .attr("fill", "#FFFFFF").attr("stroke", "#000000").attr("stroke-width", 1.2)
      .attr("stroke-linejoin", "miter");
  }, []);

  return (
    <svg
      ref={svgRef}
      width={W}
      height={H}
      style={{ display: "block", position: "absolute", left: 0, top: 0 }}
    />
  );
}
